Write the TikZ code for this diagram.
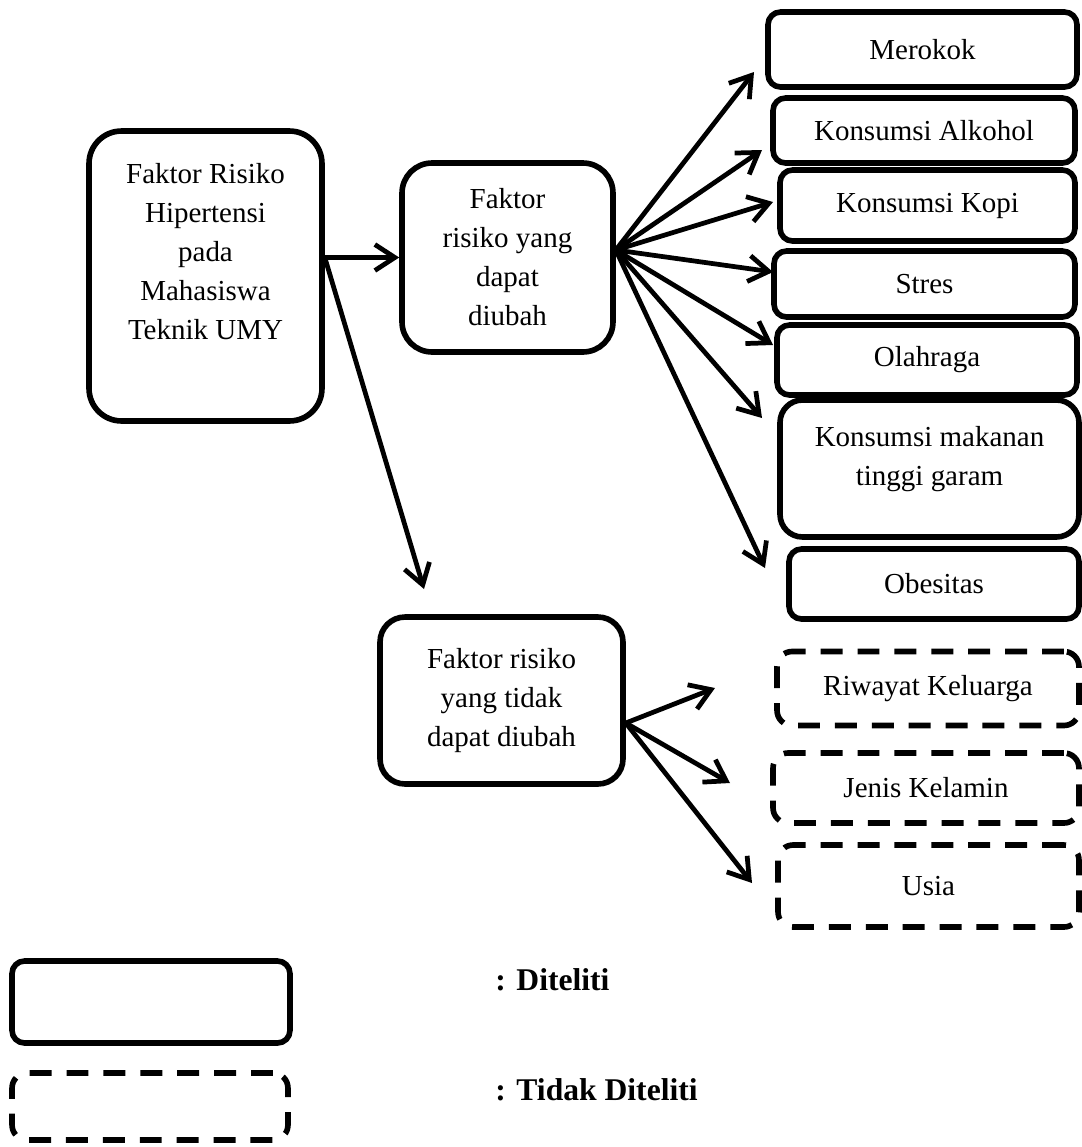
\documentclass[tikz,border=0pt]{standalone}
\usepackage{fontspec}
\setmainfont{Liberation Serif}
\usetikzlibrary{arrows.meta}

\newcommand{\isibox}{\fontsize{16.5}{22.2}\selectfont}
\newcommand{\isiket}{\fontsize{18}{22}\selectfont\bfseries}

\tikzset{
  kotak/.style={draw, line width=3.2pt, rounded corners=0.25cm, align=center, inner sep=0pt, font=\isibox},
  kotakputus/.style={kotak, rounded corners=0.3cm, dash pattern=on 12.5pt off 8.5pt},
  panah/.style={-{Straight Barb[length=4mm,width=5.2mm]}, line width=2.7pt, line cap=round},
  keterangan/.style={anchor=west, inner sep=0pt, font=\isiket}
}

\begin{document}
\begin{tikzpicture}[x=0.02cm, y=-0.02cm]
  \useasboundingbox (0, 0) rectangle (1082, 1147);

  % kotak utama
  \node[kotak, rounded corners=0.65cm, minimum width=4.66cm, minimum height=5.8cm, text depth=1cm] (hipertensi) at (205.5, 276) {Faktor Risiko\\Hipertensi\\pada\\Mahasiswa\\Teknik UMY};
  \node[kotak, rounded corners=0.6cm, minimum width=4.22cm, minimum height=3.78cm] (dapat) at (507.5, 257.5) {Faktor\\risiko yang\\dapat\\diubah};
  \node[kotak, rounded corners=0.5cm, minimum width=4.86cm, minimum height=3.34cm] (tidakdapat) at (501.5, 700.5) {Faktor risiko\\yang tidak\\dapat diubah};

  % faktor yang dapat diubah
  \node[kotak, minimum width=6.18cm, minimum height=1.5cm] (merokok) at (922.5, 49.5) {Merokok};
  \node[kotak, minimum width=6.04cm, minimum height=1.3cm] (alkohol) at (924, 130.5) {Konsumsi Alkohol};
  \node[kotak, minimum width=5.9cm, minimum height=1.42cm] (kopi) at (927.5, 205.5) {Konsumsi Kopi};
  \node[kotak, minimum width=6.02cm, minimum height=1.32cm] (stres) at (924.5, 284) {Stres};
  \node[kotak, minimum width=6cm, minimum height=1.4cm] (olahraga) at (927, 360) {Olahraga};
  \node[kotak, rounded corners=0.45cm, minimum width=5.98cm, minimum height=2.74cm, text depth=0.52cm] (garam) at (929.5, 468.5) {Konsumsi makanan\\tinggi garam};
  \node[kotak, minimum width=5.8cm, minimum height=1.4cm] (obesitas) at (934, 584) {Obesitas};

  % faktor yang tidak dapat diubah
  \node[kotakputus, minimum width=6.04cm, minimum height=1.48cm] (riwayat) at (928, 688.5) {Riwayat Keluarga};
  \node[kotakputus, minimum width=6.12cm, minimum height=1.4cm] (kelamin) at (926, 788) {Jenis Kelamin};
  \node[kotakputus, minimum width=6.02cm, minimum height=1.64cm] (usia) at (928.5, 886) {Usia};

  % panah
  \draw[panah] (hipertensi.east |- dapat.west) -- (dapat.west);
  \coordinate (ujungtidak) at (424, 589);
  \draw[panah] (hipertensi.east |- dapat.west) -- (ujungtidak);

  \foreach \tuju/\px/\py in {merokok/754/72, alkohol/762/150, kopi/773/202, stres/773/272,
                             olahraga/773/345, garam/762/418, obesitas/765/568} {
    \coordinate (u\tuju) at (\px, \py);
    \draw[panah] ([yshift=0.15cm]dapat.east) -- (u\tuju);
  }
  \foreach \tuju/\px/\py in {riwayat/715/688, kelamin/730/783, usia/752/883} {
    \coordinate (u\tuju) at (\px, \py);
    \draw[panah] ([yshift=-0.45cm]tidakdapat.east) -- (u\tuju);
  }

  % keterangan
  \node[kotak, minimum width=5.56cm, minimum height=1.64cm] (diteliti) at (151, 1002) {};
  \node[kotakputus, minimum width=5.52cm, minimum height=1.34cm] (tidakditeliti) at (150, 1106.5) {};
  \node[keterangan] (ketditeliti) at (495, 980) {: Diteliti};
  \node[keterangan] (kettidak) at (495, 1090) {: Tidak Diteliti};
\end{tikzpicture}
\end{document}
